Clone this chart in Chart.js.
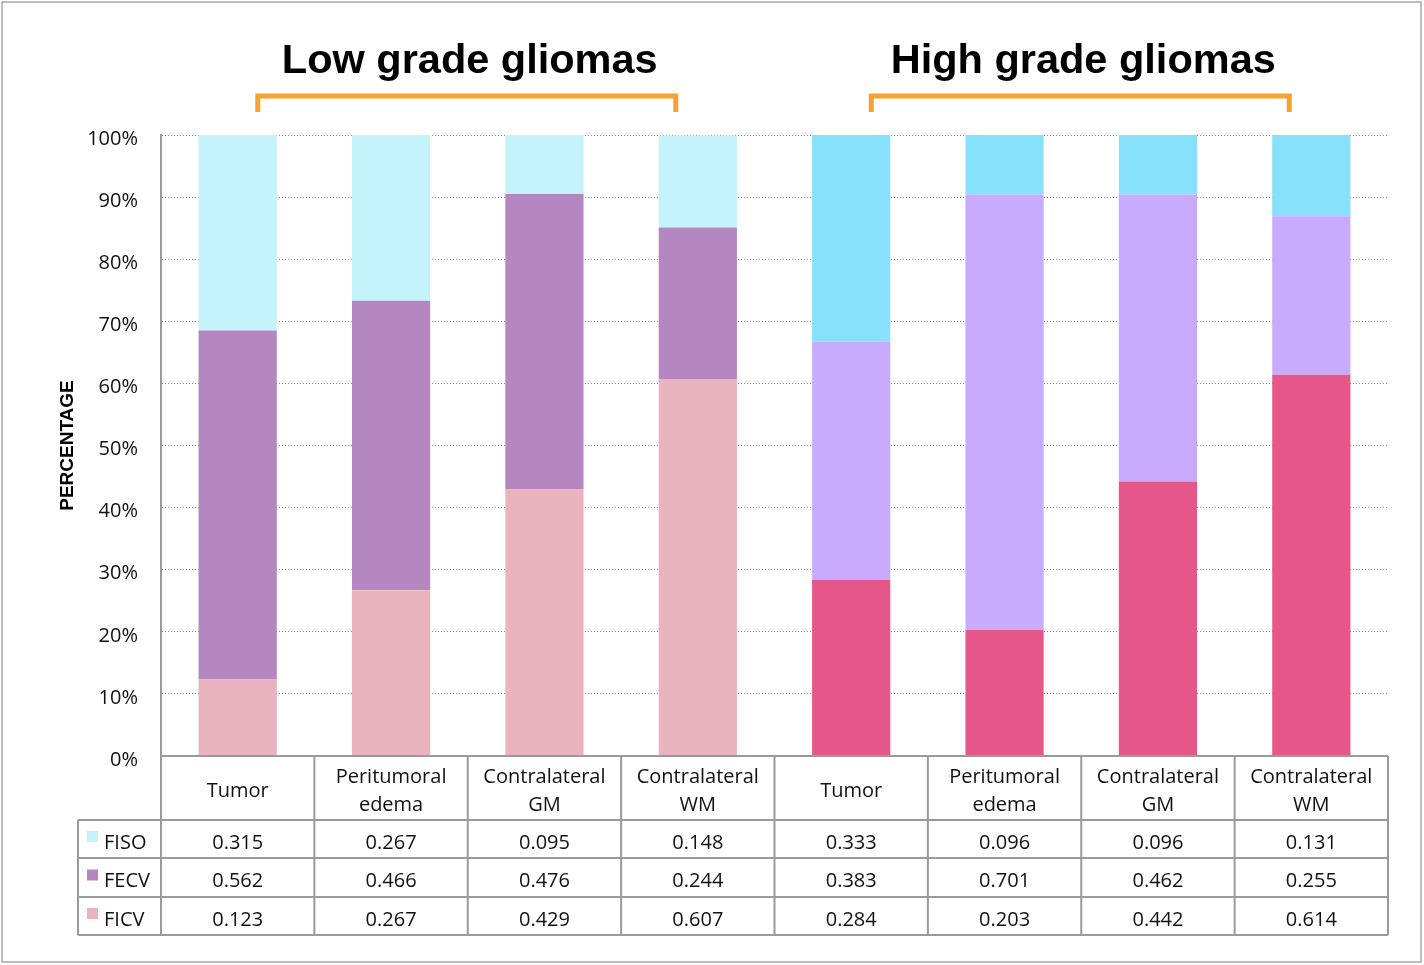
<!DOCTYPE html>
<html>
<head>
<meta charset="utf-8">
<script src="https://cdn.jsdelivr.net/npm/chart.js@4.4.1/dist/chart.umd.min.js"></script>
<style>
    html, body { margin: 0; padding: 0; background: #fff; overflow: hidden; }
    #grafico { display: block; }
</style>
</head>
<body>
<canvas id="grafico" width="1424" height="965"></canvas>
<script>
// Dados
const categorias = [
    ['Tumor'], ['Peritumoral', 'edema'], ['Contralateral', 'GM'], ['Contralateral', 'WM'],
    ['Tumor'], ['Peritumoral', 'edema'], ['Contralateral', 'GM'], ['Contralateral', 'WM']
];
const grupos = ['Low grade gliomas', 'High grade gliomas'];
const fiso = [0.315, 0.267, 0.095, 0.148, 0.333, 0.096, 0.096, 0.131];
const fecv = [0.562, 0.466, 0.476, 0.244, 0.383, 0.701, 0.462, 0.255];
const ficv = [0.123, 0.267, 0.429, 0.607, 0.284, 0.203, 0.442, 0.614];
const valoresEixoY = [0, 0.1, 0.2, 0.3, 0.4, 0.5, 0.6, 0.7, 0.8, 0.9, 1];

// Cores: baixo grau (4 primeiras) e alto grau (4 últimas)
const corFiso = ['#C4F3FC', '#C4F3FC', '#C4F3FC', '#C4F3FC', '#88E1FC', '#88E1FC', '#88E1FC', '#88E1FC'];
const corFecv = ['#B587C0', '#B587C0', '#B587C0', '#B587C0', '#C8ABFC', '#C8ABFC', '#C8ABFC', '#C8ABFC'];
const corFicv = ['#EAB4BE', '#EAB4BE', '#EAB4BE', '#EAB4BE', '#E55789', '#E55789', '#E55789', '#E55789'];

const fonteTabela = '20px "Open Sans"';
const corLinhas = '#9a9a9a';

// Linhas da tabela (ordem de cima para baixo)
const linhasTabela = [
    { nome: 'FISO', valores: fiso, cor: corFiso[0] },
    { nome: 'FECV', valores: fecv, cor: corFecv[0] },
    { nome: 'FICV', valores: ficv, cor: corFicv[0] }
];

// Plugin: moldura, títulos com colchetes e tabela de dados
const pluginTabela = {
    id: 'tabela',
    beforeDraw(chart) {
        const ctx = chart.ctx;
        ctx.save();
        ctx.fillStyle = '#fff';
        ctx.fillRect(0, 0, chart.width, chart.height);
        ctx.strokeStyle = '#a8a8a8';
        ctx.lineWidth = 1.5;
        ctx.strokeRect(2, 2, 1419, 960);
        ctx.restore();
    },
    afterDraw(chart) {
        const ctx = chart.ctx;
        const x = chart.scales.x;
        const area = chart.chartArea;
        const larg = (area.right - area.left) / categorias.length;

        // Títulos dos grupos e colchetes
        ctx.save();
        grupos.forEach(function (g, k) {
            const esq = x.getPixelForValue(k * 4) - larg / 2;
            const dir = x.getPixelForValue(k * 4 + 3) + larg / 2;
            const meio = (esq + dir) / 2;
            ctx.fillStyle = '#000';
            ctx.font = 'bold 41.5px "Liberation Sans"';
            ctx.textAlign = 'center';
            ctx.textBaseline = 'middle';
            ctx.fillText(g, meio + 2, 62);
            ctx.strokeStyle = '#F7A22F';
            ctx.lineWidth = 5;
            ctx.lineCap = 'butt';
            ctx.beginPath();
            ctx.moveTo(meio - 210, 112);
            ctx.lineTo(meio - 210, 96);
            ctx.lineTo(meio + 208, 96);
            ctx.lineTo(meio + 208, 112);
            ctx.stroke();
        });
        ctx.restore();

        // Tabela
        const topo = area.bottom;
        const yLinhas = [topo, 820, 858, 897, 935];
        const esqLegenda = 78;
        ctx.save();
        ctx.strokeStyle = corLinhas;
        ctx.lineWidth = 2;
        ctx.beginPath();
        // linhas horizontais
        ctx.moveTo(area.left, topo); ctx.lineTo(area.right, topo);
        for (let r = 1; r < yLinhas.length; r++) {
            ctx.moveTo(esqLegenda, yLinhas[r]);
            ctx.lineTo(area.right, yLinhas[r]);
        }
        // linhas verticais
        for (let i = 0; i <= categorias.length; i++) {
            const xx = i < categorias.length ? x.getPixelForValue(i) - larg / 2 : x.getPixelForValue(i - 1) + larg / 2;
            ctx.moveTo(xx, topo);
            ctx.lineTo(xx, yLinhas[4]);
        }
        ctx.moveTo(esqLegenda, yLinhas[1]);
        ctx.lineTo(esqLegenda, yLinhas[4]);
        ctx.stroke();

        ctx.fillStyle = '#111';
        ctx.font = fonteTabela;
        ctx.textAlign = 'center';
        ctx.textBaseline = 'middle';
        // cabeçalho
        for (let i = 0; i < categorias.length; i++) {
            const cx = x.getPixelForValue(i);
            const linhas = categorias[i];
            const meioY = (yLinhas[0] + yLinhas[1]) / 2 + 3;
            linhas.forEach(function (t, j) {
                ctx.fillText(t, cx, meioY + (j - (linhas.length - 1) / 2) * 28);
            });
        }
        // valores e legenda
        linhasTabela.forEach(function (linha, r) {
            const cy = (yLinhas[r + 1] + yLinhas[r + 2]) / 2 + 4;
            ctx.textAlign = 'center';
            ctx.fillStyle = '#111';
            for (let i = 0; i < linha.valores.length; i++) {
                ctx.fillText(linha.valores[i].toFixed(3), x.getPixelForValue(i), cy);
            }
            ctx.fillStyle = linha.cor;
            ctx.fillRect(87, cy - 12, 11, 11);
            ctx.fillStyle = '#111';
            ctx.textAlign = 'left';
            ctx.fillText(linha.nome, 104, cy);
        });
        ctx.restore();
    }
};

const dados = {
    labels: categorias,
    datasets: [
        { label: 'FICV', data: ficv, backgroundColor: corFicv },
        { label: 'FECV', data: fecv, backgroundColor: corFecv },
        { label: 'FISO', data: fiso, backgroundColor: corFiso }
    ]
};

const config = {
    type: 'bar',
    data: dados,
    options: {
        responsive: false,
        animation: false,
        devicePixelRatio: 1,
        datasets: {
            bar: { categoryPercentage: 1, barPercentage: 0.51, borderWidth: 0 }
        },
        layout: { padding: { left: 51, top: 135, right: 36, bottom: 209 } },
        plugins: {
            legend: { display: false },
            tooltip: { enabled: false }
        },
        scales: {
            x: {
                stacked: true,
                display: false
            },
            y: {
                stacked: true,
                min: 0,
                max: 1,
                afterFit: function (scale) { scale.width = 110; },
                afterBuildTicks: function (scale) {
                    scale.ticks = valoresEixoY.map(function (v) { return { value: v }; });
                },
                ticks: {
                    padding: 23,
                    labelOffset: 4,
                    color: '#111',
                    font: { family: 'Open Sans', size: 20 },
                    callback: function (v) { return Math.round(v * 100) + '%'; }
                },
                grid: { color: '#8a8a8a', lineWidth: 1, drawTicks: false },
                border: { display: true, color: corLinhas, width: 2, dash: [1, 2] },
                title: {
                    display: true,
                    text: 'PERCENTAGE',
                    color: '#000',
                    font: { family: 'Liberation Sans', size: 19, weight: 'bold' },
                    padding: { top: 5, bottom: 0 }
                }
            }
        }
    },
    plugins: [pluginTabela]
};

let meuGrafico = new Chart(document.getElementById('grafico'), config);
</script>
</body>
</html>
